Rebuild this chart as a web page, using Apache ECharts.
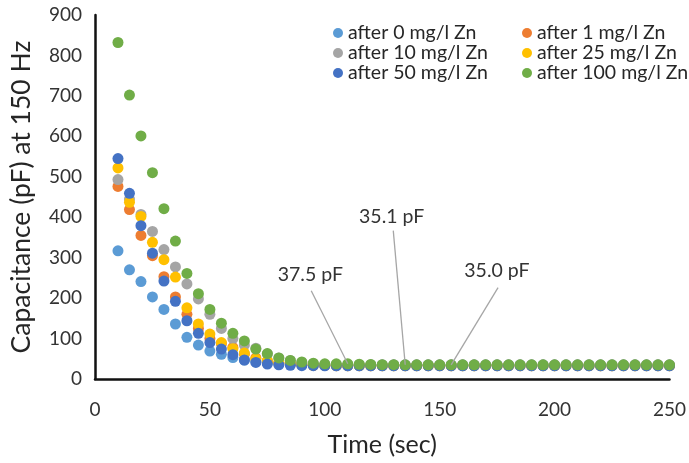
<!DOCTYPE html>
<html>
<head>
<meta charset="utf-8">
<script src="https://cdn.jsdelivr.net/npm/echarts@6/dist/echarts.min.js"></script>
<style>html,body{margin:0;padding:0;background:#fff}#c{width:689px;height:463px}</style>
</head>
<body>
<div id="c"></div>
<script>
var times = [10,15,20,25,30,35,40,45,50,55,60,65,70,75,80,85,90,95,100,105,110,115,120,125,130,135,140,145,150,155,160,165,170,175,180,185,190,195,200,205,210,215,220,225,230,235,240,245,250];

var seriesNames = ['after 0 mg/l Zn','after 1 mg/l Zn','after 10 mg/l Zn','after 25 mg/l Zn','after 50 mg/l Zn','after 100 mg/l Zn'];

var zn0 = [317,270,241,203,172,136,103,84,69,61,53,47,43,40,38,37,36,35.5,35,34.5,34.5,34.5,34.5,34.5,34.5,34.5,34.5,34.5,34.5,34.5,34.5,34.5,34.5,34.5,34.5,34.5,34.5,34.5,34.5,34.5,34.5,34.5,34.5,34.5,34.5,34.5,34.5,34.5,34.5];
var zn1 = [476,419,355,305,253,203,160,125,100,88,78,62,52,45,40,37,35,34,33.5,33,33,33,33,33,33,33,33,33,33,33,33,33,33,33,33,33,33,33,33,33,33,33,33,33,33,33,33,33,33];
var zn10 = [493,445,407,365,320,277,235,198,160,125,100,84,76,62,52,46,41,38,36,35,35,35,35,35,35,35,35,35,35,35,35,35,35,35,35,35,35,35,35,35,35,35,35,35,35,35,35,35,35];
var zn25 = [522,437,402,338,295,252,176,136,111,90,75,64,50,45,41,38,36,34,33.5,33,33,33,33,33,33,33,33,33,33,33,33,33,33,33,33,33,33,33,33,33,33,33,33,33,33,33,33,33,33];
var zn50 = [545,459,379,311,242,192,144,113,90,74,60,47,41,37,35,34,33,33,32.5,32.5,32.5,32.5,32.5,32.5,32.5,32.5,32.5,32.5,32.5,32.5,32.5,32.5,32.5,32.5,32.5,32.5,32.5,32.5,32.5,32.5,32.5,32.5,32.5,32.5,32.5,32.5,32.5,32.5,32.5];
var zn100 = [832,702,601,510,421,341,261,211,172,138,113,94,74,63,52,46,42,39,37.5,37.5,37.5,36.5,36,35.5,35.3,35.1,35.1,35.0,35.0,35.0,35.0,35.0,35.0,35.0,35.0,35.0,35.0,35.0,35.0,35.0,35.0,35.0,35.0,35.0,35.0,35.0,35.0,35.0,35.0];

var xTicks = [0,50,100,150,200,250];
var yTicks = [0,100,200,300,400,500,600,700,800,900];

var annoLabels = ['37.5 pF','35.1 pF','35.0 pF'];
var annoPointX = [110,135,155];
var annoPointY = [37.5,35.1,35.0];
var annoTextX = [93.7,129.1,174.9];
var annoTextY = [258,402,268];
var annoLineX = [94.1,129.8,175.4];
var annoLineY = [218,367,226];

var colors = ['#5B9BD5','#ED7D31','#A5A5A5','#FFC000','#4472C4','#70AD47'];
var allData = [zn0, zn1, zn10, zn25, zn50, zn100];
var FONT = 'Lato';

var chart = echarts.init(document.getElementById('c'), null, {renderer:'canvas'});

var series = allData.map(function(vals, i){
  return {
    name: seriesNames[i],
    type: 'scatter',
    symbol: 'circle',
    symbolSize: 11,
    itemStyle: {color: colors[i], opacity: 1},
    data: vals.map(function(v, j){ return [times[j], v]; }),
    z: 2 + i
  };
});

// annotation leader lines
series.push({
  type: 'lines',
  coordinateSystem: 'cartesian2d',
  silent: true,
  z: 10,
  lineStyle: {color: '#a6a6a6', width: 1.3, opacity: 1},
  data: annoLabels.map(function(l, i){
    return {coords: [[annoLineX[i], annoLineY[i]], [annoPointX[i], annoPointY[i]]]};
  })
});

var legendTextStyle = {fontFamily: FONT, fontSize: 19.5, color: '#262626', lineHeight: 19};

chart.setOption({
  animation: false,
  backgroundColor: '#fff',
  textStyle: {fontFamily: FONT},
  grid: {left: 92, right: 18, top: 15, bottom: 84, containLabel: false},
  legend: [
    {data: [seriesNames[0], seriesNames[2], seriesNames[4]], orient: 'vertical', left: 328, top: 18,
     itemWidth: 10, itemHeight: 10, itemGap: 0, itemTextGap: 6, icon: 'circle', textStyle: legendTextStyle},
    {data: [seriesNames[1], seriesNames[3], seriesNames[5]], orient: 'vertical', left: 517, top: 18,
     itemWidth: 10, itemHeight: 10, itemGap: 0, itemTextGap: 5, icon: 'circle', textStyle: legendTextStyle}
  ],
  xAxis: {
    type: 'value', min: xTicks[0], max: xTicks[xTicks.length-1], interval: 50,
    name: 'Time (sec)', nameLocation: 'middle', nameGap: 53,
    nameTextStyle: {fontFamily: FONT, fontSize: 25, color: '#262626'},
    axisLine: {show: true, lineStyle: {color: '#111', width: 2.5}},
    axisTick: {show: false},
    splitLine: {show: false},
    axisLabel: {fontFamily: FONT, fontSize: 19, color: '#333', margin: 21}
  },
  yAxis: {
    type: 'value', min: yTicks[0], max: yTicks[yTicks.length-1], interval: 100,
    name: 'Capacitance (pF) at 150 Hz', nameLocation: 'middle', nameGap: 60,
    nameTextStyle: {fontFamily: FONT, fontSize: 26.5, color: '#262626'},
    axisLine: {show: true, lineStyle: {color: '#111', width: 2.5}},
    axisTick: {show: false},
    splitLine: {show: false},
    axisLabel: {fontFamily: FONT, fontSize: 19, color: '#333', margin: 13}
  },
  series: series
});

// annotation labels placed through the chart's scales
var g = annoLabels.map(function(l, i){
  var p = chart.convertToPixel({gridIndex: 0}, [annoTextX[i], annoTextY[i]]);
  return {
    type: 'text', x: p[0], y: p[1], z: 100,
    style: {text: l, fill: '#333', font: '19.5px ' + FONT, textAlign: 'center', textVerticalAlign: 'middle'}
  };
});
chart.setOption({graphic: g});
</script>
</body>
</html>
